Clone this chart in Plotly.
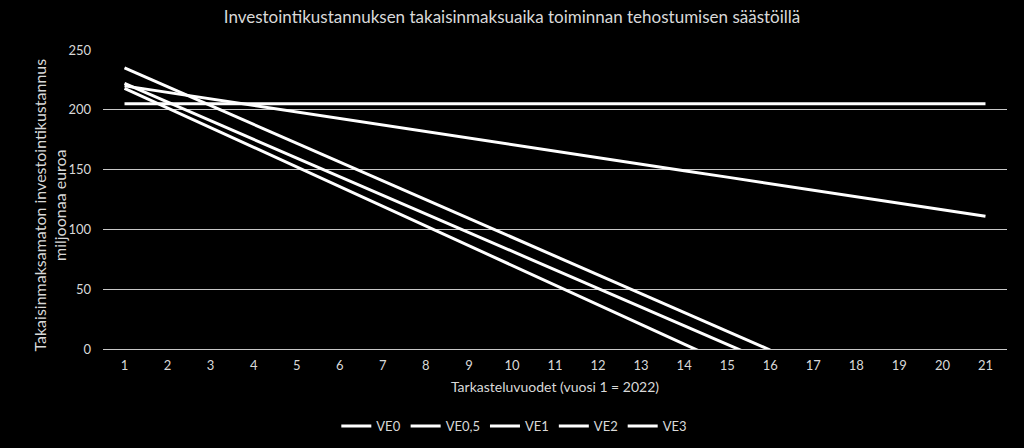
import plotly.graph_objects as go

years = list(range(1, 22))
series_names = ["VE0", "VE0,5", "VE1", "VE2", "VE3"]

ve0 = [205] * 21
ve05 = [220, 214.5, 209.1, 203.6, 198.2, 192.7, 187.3, 181.8, 176.4, 170.9, 165.5,
        160.0, 154.6, 149.1, 143.7, 138.2, 132.8, 127.3, 121.9, 116.4, 111]
ve1 = [218, 201.5, 185.1, 168.6, 152.2, 135.7, 119.3, 102.8, 86.4, 69.9, 53.5,
       37.0, 20.6, 4.1, -12.3]
ve2 = [222, 206.4, 190.8, 175.3, 159.7, 144.1, 128.5, 112.9, 97.4, 81.8, 66.2,
       50.6, 35.0, 19.5, 3.9, -11.7]
ve3 = [235, 219.3, 203.5, 187.8, 172.1, 156.3, 140.6, 124.9, 109.2, 93.4, 77.7,
       62.0, 46.2, 30.5, 14.8, -0.9]

font_family = "Lato"
text_color = "#d9d9d9"

fig = go.Figure()
for name, values in zip(series_names, [ve0, ve05, ve1, ve2, ve3]):
    fig.add_trace(
        go.Scatter(
            x=years[: len(values)],
            y=values,
            mode="lines",
            name=name,
            line={"color": "#ffffff", "width": 3},
        )
    )

# y axis title as a rotated annotation so it sits where the original has it
fig.add_annotation(
    text="Takaisinmaksamaton investointikustannus<br>miljoonaa euroa",
    xref="paper",
    yref="paper",
    x=-0.0585,
    y=0.48,
    xanchor="center",
    yanchor="middle",
    textangle=-90,
    showarrow=False,
    font={"size": 16, "color": text_color},
)

fig.update_layout(
    width=1024,
    height=448,
    paper_bgcolor="#000000",
    plot_bgcolor="#000000",
    font={"family": font_family, "color": text_color, "size": 13},
    title={
        "text": "Investointikustannuksen takaisinmaksuaika toiminnan tehostumisen säästöillä",
        "x": 0.5,
        "xanchor": "center",
        "y": 0.962,
        "yanchor": "middle",
        "font": {"size": 17, "color": text_color},
    },
    xaxis={
        "range": [0.5, 21.5],
        "tickmode": "array",
        "tickvals": years,
        "ticktext": [str(y) for y in years],
        "showgrid": False,
        "zeroline": False,
        "showline": False,
        "ticks": "",
        "ticklabelstandoff": 7,
        "tickfont": {"size": 13},
        "title": {"text": "Tarkasteluvuodet (vuosi 1 = 2022)", "font": {"size": 14}, "standoff": 10},
    },
    yaxis={
        "range": [0, 250],
        "tickvals": [0, 50, 100, 150, 200, 250],
        "showgrid": True,
        "gridcolor": "#c8c8c8",
        "gridwidth": 1,
        "zeroline": True,
        "zerolinecolor": "#c8c8c8",
        "zerolinewidth": 1,
        "ticks": "",
        "ticklabelstandoff": 11,
        "tickfont": {"size": 13},
    },
    legend={
        "orientation": "h",
        "x": 0.455,
        "xanchor": "center",
        "y": -0.258,
        "yanchor": "middle",
        "font": {"size": 13},
        "bgcolor": "rgba(0,0,0,0)",
    },
    margin={"l": 103, "r": 17, "t": 50, "b": 99, "autoexpand": False},
)

fig.write_html(
    "out.html",
    config={"displayModeBar": False},
    post_script="document.body.style.margin='0';document.body.style.background='#000';",
)
